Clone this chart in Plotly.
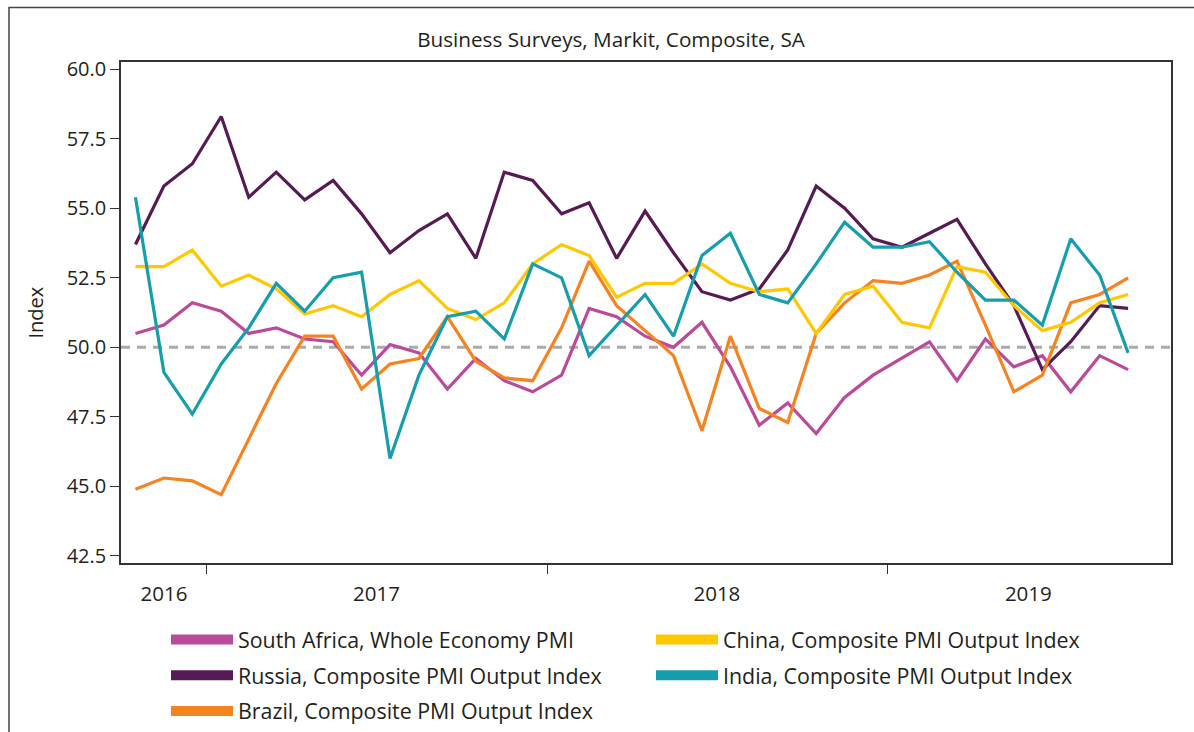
import plotly.graph_objects as go

months = [f"{y}-{m:02d}-01" for y, m in
          [(2016, m) for m in range(10, 13)] +
          [(2017, m) for m in range(1, 13)] +
          [(2018, m) for m in range(1, 13)] +
          [(2019, m) for m in range(1, 10)]]

south_africa = [50.5, 50.8, 51.6, 51.3, 50.5, 50.7, 50.3, 50.2, 49.0, 50.1, 49.8, 48.5,
                49.6, 48.8, 48.4, 49.0, 51.4, 51.1, 50.4, 50.0, 50.9, 49.3, 47.2, 48.0,
                46.9, 48.2, 49.0, 49.6, 50.2, 48.8, 50.3, 49.3, 49.7, 48.4, 49.7, 49.2]
russia = [53.7, 55.8, 56.6, 58.3, 55.4, 56.3, 55.3, 56.0, 54.8, 53.4, 54.2, 54.8,
          53.2, 56.3, 56.0, 54.8, 55.2, 53.2, 54.9, 53.4, 52.0, 51.7, 52.1, 53.5,
          55.8, 55.0, 53.9, 53.6, 54.1, 54.6, 53.0, 51.5, 49.2, 50.2, 51.5, 51.4]
brazil = [44.9, 45.3, 45.2, 44.7, 46.7, 48.7, 50.4, 50.4, 48.5, 49.4, 49.6, 51.1,
          49.5, 48.9, 48.8, 50.7, 53.1, 51.5, 50.6, 49.7, 47.0, 50.4, 47.8, 47.3,
          50.5, 51.6, 52.4, 52.3, 52.6, 53.1, 50.8, 48.4, 49.0, 51.6, 51.9, 52.5]
china = [52.9, 52.9, 53.5, 52.2, 52.6, 52.1, 51.2, 51.5, 51.1, 51.9, 52.4, 51.4,
         51.0, 51.6, 53.0, 53.7, 53.3, 51.8, 52.3, 52.3, 53.0, 52.3, 52.0, 52.1,
         50.5, 51.9, 52.2, 50.9, 50.7, 52.9, 52.7, 51.5, 50.6, 50.9, 51.6, 51.9]
india = [55.4, 49.1, 47.6, 49.4, 50.7, 52.3, 51.3, 52.5, 52.7, 46.0, 49.0, 51.1,
         51.3, 50.3, 53.0, 52.5, 49.7, 50.8, 51.9, 50.4, 53.3, 54.1, 51.9, 51.6,
         53.0, 54.5, 53.6, 53.6, 53.8, 52.7, 51.7, 51.7, 50.8, 53.9, 52.6, 49.8]

series_names = ["South Africa, Whole Economy PMI",
                "Russia, Composite PMI Output Index",
                "Brazil, Composite PMI Output Index",
                "China, Composite PMI Output Index",
                "India, Composite PMI Output Index"]
series_values = [south_africa, russia, brazil, china, india]
series_colors = ["#BB4A9B", "#561B54", "#F7821F", "#FFC800", "#169EAF"]
series_legend = ["legend", "legend", "legend", "legend2", "legend2"]

year_boundaries = ["2017-01-01", "2018-01-01", "2019-01-01"]
year_label_pos = ["2016-11-16", "2017-07-02", "2018-07-02", "2019-06-01"]
year_labels = ["2016", "2017", "2018", "2019"]
y_ticks = [42.5, 45.0, 47.5, 50.0, 52.5, 55.0, 57.5, 60.0]
x_range = ["2016-10-01", "2019-11-01"]
y_range = [42.23, 60.26]

FONT = "Open Sans"
TXT = "#231F20"
W, H = 1194, 732
L, R, T, B = 121, 23, 62, 164
PW, PH = W - L - R, H - T - B

fig = go.Figure()
for i, (name, vals, col, lg) in enumerate(zip(series_names, series_values, series_colors, series_legend)):
    fig.add_trace(go.Scatter(
        x=months, y=vals, mode="lines", name=name,
        xperiod="M1", xperiodalignment="middle",
        line=dict(color=col, width=3.2), legendgroup=f"g{i}", showlegend=False,
        hovertemplate="%{x|%b %Y}: %{y:.1f}<extra>" + name + "</extra>"))
    fig.add_trace(go.Scatter(
        x=[None], y=[None], mode="lines", name=name, legend=lg,
        line=dict(color=col, width=10), legendgroup=f"g{i}", showlegend=True,
        hoverinfo="skip"))

# invisible trace to carry the year-label axis
fig.add_trace(go.Scatter(x=x_range, y=[None, None], xaxis="x2", showlegend=False,
                         hoverinfo="skip", mode="lines"))

legend_common = dict(xanchor="left", yref="container", y=1 - 619 / H,
                     yanchor="top", orientation="v", itemwidth=62,
                     tracegroupgap=5, traceorder="grouped",
                     font=dict(size=21.4, color=TXT, family=FONT),
                     bgcolor="rgba(0,0,0,0)")

fig.update_layout(
    width=W, height=H,
    margin=dict(l=L, r=R, t=T, b=B),
    paper_bgcolor="white", plot_bgcolor="white",
    font=dict(family=FONT, color=TXT),
    title=dict(text="Business Surveys, Markit, Composite, SA",
               font=dict(size=20.7, color=TXT, family=FONT),
               xref="container", x=611 / W, xanchor="center",
               yref="container", y=1 - 40 / H, yanchor="middle"),
    xaxis=dict(type="date", range=x_range, tickvals=year_boundaries,
               showticklabels=False, ticks="outside", ticklen=9, tickwidth=1.3,
               tickcolor="#333", showline=True, mirror=True, linecolor="#333",
               linewidth=1.5, showgrid=False, zeroline=False),
    xaxis2=dict(type="date", range=x_range, overlaying="x", side="bottom",
                anchor="y", tickvals=year_label_pos, ticktext=year_labels,
                ticks="outside", ticklen=12, tickcolor="rgba(0,0,0,0)",
                showline=False, showgrid=False, zeroline=False,
                tickfont=dict(size=20.5, color=TXT, family=FONT)),
    yaxis=dict(range=y_range, tickvals=y_ticks, tickformat=".1f",
               ticks="outside", ticklen=9, tickwidth=1.3, tickcolor="#333",
               showline=True, mirror=True, linecolor="#333", linewidth=1.5,
               showgrid=False, zeroline=False,
               tickfont=dict(size=20, color=TXT, family=FONT),
               title=dict(text="Index", font=dict(size=20, color=TXT, family=FONT),
                          standoff=18)),
    legend=dict(x=(166 - L) / PW, **legend_common),
    legend2=dict(x=(651 - L) / PW, **legend_common),
    shapes=[
        dict(type="line", xref="paper", x0=0, x1=1, yref="y", y0=50, y1=50,
             line=dict(color="#AAAAAA", width=3, dash="9px,7px"), layer="below"),
        dict(type="rect", xref="paper", yref="paper",
             x0=(9 - L) / PW, x1=1.2, y0=-1.0, y1=(H - B - 7) / PH,
             line=dict(color="#444", width=1.5), fillcolor="rgba(0,0,0,0)"),
    ],
)

fig.write_html("out.html", config={"displayModeBar": False},
               post_script="document.body.style.margin='0';")
